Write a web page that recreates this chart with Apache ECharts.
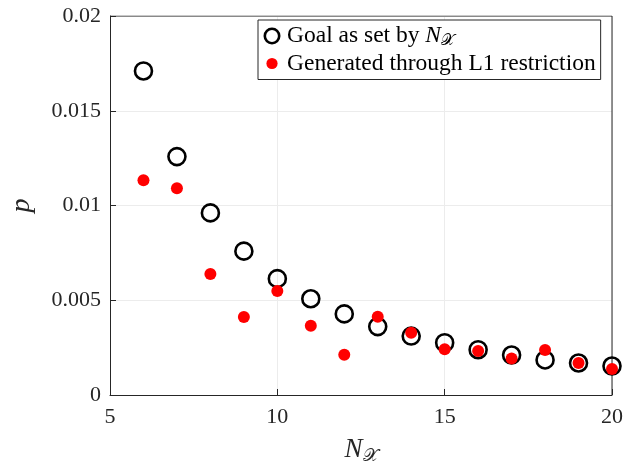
<!DOCTYPE html>
<html>
<head>
<meta charset="utf-8">
<script src="https://cdn.jsdelivr.net/npm/echarts@6/dist/echarts.min.js"></script>
<style>
  html, body { margin: 0; padding: 0; background: #fff; }
  #chart { width: 639px; height: 470px; }
</style>
</head>
<body>
<div id="chart"></div>
<script>
// N_X values on the x axis
var nValues = [6, 7, 8, 9, 10, 11, 12, 13, 14, 15, 16, 17, 18, 19, 20];
// goal p as set by N_X (black circles)
var goalP = [0.0171, 0.01258, 0.00961, 0.00759, 0.00614, 0.00508, 0.00428, 0.00361, 0.00311, 0.00276, 0.00239, 0.00211, 0.00185, 0.00169, 0.00153];
// p generated through L1 restriction (red dots)
var l1P = [0.01133, 0.01091, 0.00639, 0.00412, 0.00549, 0.00366, 0.00213, 0.00413, 0.00329, 0.00241, 0.00232, 0.00192, 0.00238, 0.00169, 0.00137];
var xTicks = [5, 10, 15, 20];
var yTicks = [0, 0.005, 0.01, 0.015, 0.02];

function pairs(xs, ys) {
  return xs.map(function (x, i) { return [x, ys[i]]; });
}

// legend icons: small svgs so the dot is smaller than the ring, like matlab
function svgIcon(body) {
  return 'image://data:image/svg+xml;charset=utf-8,' + encodeURIComponent(
    '<svg xmlns="http://www.w3.org/2000/svg" width="20" height="20" viewBox="0 0 20 20">' + body + '</svg>');
}
var ringIcon = svgIcon('<circle cx="10" cy="10" r="7.2" fill="none" stroke="#000" stroke-width="2.6"/>');
var dotIcon = svgIcon('<circle cx="10" cy="10" r="5.6" fill="#ff0000"/>');

var serif = '"Liberation Serif", "DejaVu Serif", serif';
var ink = '#262626';

var myChart = echarts.init(document.getElementById('chart'));
myChart.setOption({
  animation: false,
  textStyle: { fontFamily: serif },
  grid: { left: 110, right: 27, top: 16, bottom: 75 },
  legend: {
    left: 258, top: 20,
    orient: 'vertical',
    backgroundColor: '#fff',
    borderColor: ink, borderWidth: 1,
    padding: [4, 5, 4, 4],
    itemGap: 3,
    itemWidth: 20, itemHeight: 20,
    textStyle: {
      fontFamily: serif, fontSize: 23.5, color: '#000',
      rich: {
        i: { fontFamily: serif, fontStyle: 'italic', fontSize: 23.5, color: '#000' },
        s: { fontFamily: serif, fontSize: 16, color: '#000', padding: [9, 0, 0, 0] }
      }
    },
    formatter: function (name) {
      if (name === 'goal') return 'Goal as set by {i|N}{s|𝒳}';
      return 'Generated through L1 restriction';
    },
    data: [
      { name: 'goal', icon: ringIcon },
      { name: 'l1', icon: dotIcon }
    ]
  },
  xAxis: {
    type: 'value', min: 5, max: 20, interval: 5,
    name: '{i|N}{s|𝒳}',
    nameLocation: 'middle', nameGap: 40,
    nameTextStyle: {
      rich: {
        i: { fontFamily: serif, fontStyle: 'italic', fontSize: 27, color: ink },
        s: { fontFamily: serif, fontSize: 18, color: ink, padding: [12, 0, 0, 0] }
      }
    },
    axisLine: { show: true, onZero: false, lineStyle: { color: ink, width: 1 } },
    axisTick: { show: true, inside: true, length: 6, lineStyle: { color: ink } },
    axisLabel: { fontSize: 22, color: ink, margin: 11, fontFamily: serif },
    splitLine: { show: true, lineStyle: { color: '#ececec', width: 1 } }
  },
  yAxis: {
    type: 'value', min: 0, max: 0.02, interval: 0.005,
    name: 'p',
    nameLocation: 'middle', nameGap: 74, nameRotate: 90,
    nameTextStyle: { fontFamily: serif, fontStyle: 'italic', fontSize: 28, color: ink },
    axisLine: { show: true, onZero: false, lineStyle: { color: ink, width: 1 } },
    axisTick: { show: true, inside: true, length: 6, lineStyle: { color: ink } },
    axisLabel: {
      fontSize: 22, color: ink, margin: 9, fontFamily: serif,
      formatter: function (v) {
        var hit = yTicks.filter(function (t) { return Math.abs(t - v) < 1e-9; });
        return hit.length ? String(hit[0]) : '';
      }
    },
    splitLine: { show: true, lineStyle: { color: '#ececec', width: 1 } }
  },
  series: [
    {
      name: 'goal', type: 'scatter',
      symbol: 'circle', symbolSize: 17,
      itemStyle: { color: 'rgba(255,255,255,0)', borderColor: '#000', borderWidth: 2.6, opacity: 1 },
      data: pairs(nValues, goalP), z: 2
    },
    {
      name: 'l1', type: 'scatter',
      symbol: 'circle', symbolSize: 12,
      itemStyle: { color: '#ff0000', opacity: 1 },
      data: pairs(nValues, l1P), z: 3
    },
    {
      // box lines on top and right, as in the original axes frame
      type: 'line', silent: true, symbol: 'none',
      lineStyle: { color: ink, width: 1 },
      data: [[5, 0.02], [20, 0.02], [20, 0]],
      z: 1
    }
  ]
});
</script>
</body>
</html>
